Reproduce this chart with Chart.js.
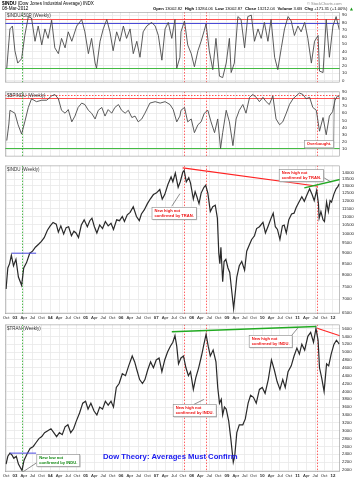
<!DOCTYPE html>
<html>
<head>
<meta charset="utf-8">
<script src="https://cdn.jsdelivr.net/npm/chart.js@4.4.0/dist/chart.umd.min.js"></script>
<style>
  body { margin: 0; background: #fff; }
  #wrap { position: relative; width: 362px; height: 480px; overflow: hidden; }
  canvas { position: absolute; left: 0; }
</style>
</head>
<body>
<div id="wrap">
  <canvas id="c1" width="362" height="87" style="top:0px"></canvas>
  <canvas id="c2" width="362" height="74" style="top:87px"></canvas>
  <canvas id="c3" width="362" height="161" style="top:161px"></canvas>
  <canvas id="c4" width="362" height="160" style="top:320px"></canvas>
</div>
<script>
const FONT = '"Liberation Sans", Arial, sans-serif';
const X_MIN = 2002.72, X_MAX = 2012.2;

// --- panel 1: % of Dow stocks above 50-day MA (weekly) ---
const osc1Dates = [
  2002.77, 2002.86, 2002.93,
  2003.00, 2003.08, 2003.19, 2003.28, 2003.38, 2003.47, 2003.57, 2003.66, 2003.76, 2003.85, 2003.94,
  2004.04, 2004.13, 2004.23, 2004.32, 2004.42, 2004.51, 2004.61, 2004.75, 2004.89, 2004.98,
  2005.08, 2005.17, 2005.27, 2005.31, 2005.41, 2005.50, 2005.60, 2005.69, 2005.78, 2005.88, 2005.97,
  2006.07, 2006.16, 2006.26, 2006.35, 2006.45, 2006.54, 2006.63, 2006.73, 2006.87, 2006.97,
  2007.06, 2007.16, 2007.25, 2007.34, 2007.44, 2007.53, 2007.58, 2007.67, 2007.70, 2007.80, 2007.89, 2007.99,
  2008.08, 2008.18, 2008.27, 2008.36, 2008.41, 2008.50, 2008.60, 2008.69, 2008.79, 2008.88, 2008.98,
  2009.07, 2009.12, 2009.21, 2009.31, 2009.40, 2009.50, 2009.59, 2009.69, 2009.78, 2009.88, 2009.97,
  2010.06, 2010.16, 2010.25, 2010.35, 2010.44, 2010.54, 2010.63, 2010.73, 2010.82, 2010.91,
  2011.01, 2011.10, 2011.20, 2011.29, 2011.39, 2011.48, 2011.58, 2011.62, 2011.72, 2011.81, 2011.90,
  2012.00, 2012.09, 2012.18
];
const osc1Values = [
  17, 71, 75,
  41, 24, 30, 62, 88, 86, 54, 75, 49, 71, 58,
  83, 45, 37, 58, 45, 67, 54, 75, 84, 67,
  37, 58, 24, 17, 54, 71, 84, 67, 41, 67, 54,
  75, 58, 71, 37, 54, 32, 67, 75, 80, 75,
  62, 28, 71, 80, 58, 84, 17, 32, 67, 82, 49, 37,
  19, 41, 54, 69, 78, 41, 15, 58, 6, 4, 24,
  58, 11, 24, 88, 84, 45, 88, 90, 54, 71, 58,
  80, 54, 84, 32, 15, 45, 71, 88, 82, 62,
  75, 67, 80, 58, 24, 54, 62, 13, 11, 84, 32,
  75, 88, 70
];

// --- panel 2: Dow Bullish Percent (weekly) ---
const bpiDates = [
  2002.77, 2002.83, 2002.86,
  2003.00, 2003.09, 2003.19, 2003.28, 2003.38, 2003.47, 2003.61, 2003.76, 2003.90,
  2004.04, 2004.13, 2004.23, 2004.32, 2004.42, 2004.51, 2004.61, 2004.70, 2004.79, 2004.89, 2004.98,
  2005.08, 2005.17, 2005.27, 2005.36, 2005.46, 2005.55, 2005.64, 2005.74, 2005.83, 2005.93,
  2006.02, 2006.12, 2006.21, 2006.31, 2006.40, 2006.49, 2006.59, 2006.68, 2006.82, 2006.97,
  2007.11, 2007.25, 2007.39, 2007.48, 2007.58, 2007.67, 2007.70, 2007.80, 2007.89, 2007.99,
  2008.08, 2008.18, 2008.27, 2008.36, 2008.46, 2008.55, 2008.65, 2008.74, 2008.82, 2008.88, 2008.98,
  2009.07, 2009.17, 2009.26, 2009.35, 2009.45, 2009.54, 2009.64, 2009.73, 2009.83, 2009.92,
  2010.02, 2010.11, 2010.20, 2010.30, 2010.39, 2010.49, 2010.58, 2010.68, 2010.77, 2010.87, 2010.96,
  2011.05, 2011.15, 2011.24, 2011.34, 2011.43, 2011.53, 2011.62, 2011.72, 2011.81, 2011.90, 2011.99,
  2012.06, 2012.13, 2012.18
];
const bpiValues = [
  22, 45, 64,
  60, 44, 31, 48, 68, 80, 76, 78, 78,
  84, 86, 80, 64, 60, 65, 48, 56, 68, 74, 72,
  64, 60, 52, 64, 68, 56, 65, 60, 68, 72,
  64, 60, 64, 54, 56, 48, 52, 60, 74, 76,
  74, 76, 72, 65, 48, 56, 64, 68, 48, 52,
  33, 44, 48, 60, 64, 48, 33, 52, 11, 33, 64,
  48, 15, 52, 64, 72, 60, 82, 86, 82, 76,
  82, 76, 72, 84, 52, 44, 48, 60, 72, 80, 84,
  88, 86, 80, 82, 68, 64, 35, 54, 30, 56, 62,
  78, 84, 82
];

// --- panel 3: $INDU weekly ---
const induDates = [
  2002.75, 2002.80, 2002.85, 2002.90, 2002.96,
  2003.03, 2003.10, 2003.19, 2003.25, 2003.33, 2003.42, 2003.50, 2003.58, 2003.67, 2003.75, 2003.83, 2003.92,
  2004.00, 2004.08, 2004.17, 2004.23, 2004.30, 2004.38, 2004.45, 2004.52, 2004.60, 2004.67, 2004.73, 2004.80, 2004.88, 2004.96,
  2005.05, 2005.12, 2005.18, 2005.25, 2005.32, 2005.40, 2005.48, 2005.56, 2005.64, 2005.72, 2005.79, 2005.88, 2005.96,
  2006.04, 2006.10, 2006.18, 2006.26, 2006.35, 2006.44, 2006.52, 2006.58, 2006.66, 2006.75, 2006.83, 2006.92,
  2007.00, 2007.10, 2007.17, 2007.24, 2007.33, 2007.42, 2007.47, 2007.54, 2007.62, 2007.68, 2007.75, 2007.79, 2007.85, 2007.92, 2007.97,
  2008.05, 2008.10, 2008.15, 2008.21, 2008.27, 2008.35, 2008.40, 2008.46, 2008.53, 2008.60, 2008.67, 2008.73, 2008.77, 2008.80, 2008.83, 2008.88, 2008.92, 2008.97,
  2009.03, 2009.08, 2009.13, 2009.19, 2009.24, 2009.28, 2009.35, 2009.42, 2009.50, 2009.56, 2009.63, 2009.70, 2009.78, 2009.84, 2009.92,
  2010.02, 2010.09, 2010.16, 2010.25, 2010.31, 2010.37, 2010.43, 2010.50, 2010.57, 2010.62, 2010.68, 2010.75, 2010.83, 2010.90, 2010.96,
  2011.04, 2011.12, 2011.19, 2011.26, 2011.34, 2011.41, 2011.47, 2011.54, 2011.59, 2011.61, 2011.66, 2011.72, 2011.76, 2011.82, 2011.87, 2011.92, 2011.96,
  2012.03, 2012.09, 2012.14, 2012.18
];
const induValues = [
  7400, 8300, 8500, 8900, 8400,
  8700, 7900, 7550, 8300, 8550, 9000, 9100, 9300, 9450, 9600, 9800, 10200,
  10450, 10650, 10550, 10100, 10450, 10000, 10350, 10400, 9900, 10150, 10050, 9800, 10500, 10800,
  10400, 10750, 10900, 10400, 10050, 10500, 10300, 10700, 10450, 10600, 10250, 10800, 10750,
  11000, 10700, 11100, 11250, 11600, 11000, 10750, 11150, 11400, 11800, 12100, 12400,
  12500, 12750, 12100, 12400, 13100, 13650, 13300, 13950, 12900, 13300, 14000, 14150, 13300, 13600, 13200,
  12100, 12600, 12250, 11800, 12500, 12900, 13050, 12500, 11300, 11600, 11700, 10900, 9000, 8500, 9300, 7700, 8600, 8700,
  8300, 8100, 7400, 6650, 7300, 7900, 8400, 8600, 8200, 9100, 9400, 9700, 9900, 10300, 10400,
  10650, 10050, 10400, 10900, 11200, 10400, 10250, 9700, 10450, 10500, 10050, 10800, 11150, 11200, 11550,
  11900, 12250, 11950, 12350, 12800, 12400, 12000, 12700, 11800, 10900, 11300, 10800, 10700, 11900, 11300, 12000, 11900,
  12450, 12800, 12950, 13150
];

// --- panel 4: $TRAN weekly ---
const tranDates = [
  2002.75, 2002.80, 2002.86, 2002.92, 2002.97,
  2003.04, 2003.10, 2003.20, 2003.26, 2003.34, 2003.43, 2003.52, 2003.60, 2003.68, 2003.76, 2003.84, 2003.93,
  2004.02, 2004.10, 2004.18, 2004.26, 2004.34, 2004.42, 2004.50, 2004.58, 2004.66, 2004.74, 2004.83, 2004.92,
  2005.00, 2005.07, 2005.15, 2005.24, 2005.32, 2005.40, 2005.48, 2005.56, 2005.64, 2005.72, 2005.79, 2005.87, 2005.95,
  2006.04, 2006.13, 2006.22, 2006.32, 2006.39, 2006.45, 2006.53, 2006.61, 2006.68, 2006.76, 2006.84, 2006.92,
  2007.00, 2007.08, 2007.16, 2007.24, 2007.32, 2007.40, 2007.47, 2007.53, 2007.58, 2007.63, 2007.70, 2007.77, 2007.84, 2007.91, 2007.97,
  2008.05, 2008.12, 2008.20, 2008.28, 2008.35, 2008.41, 2008.47, 2008.53, 2008.61, 2008.69, 2008.74, 2008.79, 2008.84, 2008.88, 2008.93, 2008.98,
  2009.05, 2009.11, 2009.18, 2009.22, 2009.28, 2009.35, 2009.45, 2009.52, 2009.60, 2009.67, 2009.75, 2009.83, 2009.92,
  2010.00, 2010.08, 2010.17, 2010.26, 2010.34, 2010.42, 2010.50, 2010.58, 2010.65, 2010.73, 2010.82, 2010.90, 2010.98,
  2011.05, 2011.12, 2011.20, 2011.29, 2011.37, 2011.45, 2011.52, 2011.58, 2011.62, 2011.68, 2011.75, 2011.82, 2011.88, 2011.95,
  2012.03, 2012.10, 2012.18
];
const tranValues = [
  2150, 2350, 2430, 2380, 2300,
  2350, 2150, 1990, 2250, 2400, 2550, 2600, 2700, 2800, 2850, 2950, 3000,
  3050, 2950, 2850, 2950, 2900, 3100, 3150, 2950, 3050, 3250, 3450, 3700,
  3750, 3550, 3700, 3500, 3400, 3600, 3550, 3750, 3650, 3750, 3600, 4100, 4200,
  4450, 4400, 4650, 4900, 4750, 4550, 4300, 4200, 4300, 4550, 4750, 4600,
  4800, 4850, 4500, 4800, 5000, 5150, 5250, 5420, 5150, 4700, 4850, 4900, 4600, 4400, 4500,
  4050, 4350, 4600, 4900, 5200, 5450, 5150, 4900, 5050, 4750, 4100, 3700, 3800, 3400, 3600, 3550,
  3250, 2800, 2200, 2350, 2950, 3150, 3150, 3300, 3700, 3900, 3850, 3700, 4050,
  4100, 3950, 4300, 4800, 4550, 4250, 4050, 4300, 4100, 4500, 4650, 4900, 5100,
  4950, 5200, 5050, 5400, 5500, 5250, 5600, 5300, 4600, 4350, 4000, 4700, 4650, 4950,
  5200, 5300, 5200
];

// tick labels
const pctTicks = [0, 10, 20, 30, 40, 50, 60, 70, 80, 90];
const bpiTicks = [10, 20, 30, 40, 50, 60, 70, 80, 90];
const induTicks = [6500, 7000, 7500, 8000, 8500, 9000, 9500, 10000, 10500, 11000, 11500, 12000, 12500, 13000, 13500, 14000];
const tranTicks = [2000, 2200, 2400, 2600, 2800, 3000, 3200, 3400, 3600, 3800, 4000, 4200, 4400, 4600, 4800, 5000, 5200, 5400, 5600];
const quarterNames = ['', 'Apr', 'Jul', 'Oct'];
const headerStats = [['Open', '13002.82'], ['High', '13284.06'], ['Low', '13002.87'], ['Close', '13212.04'], ['Volume', '3.6B'], ['Chg', '+171.31 (+1.00%)']];

// marker dates (vertical dotted lines)
const greenDates = [2003.2];
const redDates = [2007.78, 2008.4, 2011.55];

const quarterTicks = [];
for (let yr = 2002; yr <= 2012; yr++) {
  for (let q = 0; q < 4; q++) {
    const t = yr + q * 0.25;
    if (t >= X_MIN && t <= X_MAX) quarterTicks.push(t);
  }
}
const qIndex = v => Math.round((v - Math.floor(v + 0.001)) * 4) % 4;

function xScale(show) {
  return {
    type: 'linear', min: X_MIN, max: X_MAX,
    afterBuildTicks: s => { s.ticks = quarterTicks.map(v => ({ value: v })); },
    ticks: {
      display: show, autoSkip: false, maxRotation: 0, padding: 1, color: '#222',
      font: c => ({ size: 4.3, family: FONT, weight: (c.tick && qIndex(c.tick.value) === 0) ? 'bold' : 'normal' }),
      callback: v => qIndex(v) === 0 ? String(Math.round(v)).slice(2) : quarterNames[qIndex(v)]
    },
    grid: { color: '#e8e8e8', drawTicks: false, lineWidth: 0.8 },
    border: { display: false },
    afterFit: s => { s.height = show ? 8 : 0; }
  };
}

function yScale(type, min, max, ticks) {
  return {
    type: type, position: 'right', min: min, max: max,
    afterBuildTicks: s => { s.ticks = ticks.map(v => ({ value: v })); },
    ticks: { autoSkip: false, padding: 2, color: '#222', font: { size: 4.3, family: FONT }, callback: v => String(v) },
    grid: { color: '#e8e8e8', drawTicks: false, lineWidth: 0.8 },
    border: { display: false },
    afterFit: s => { s.width = 22; }
  };
}

function drawHeader(ctx) {
  ctx.save();
  ctx.textBaseline = 'middle';
  ctx.fillStyle = '#000';
  ctx.font = 'bold 4.8px ' + FONT;
  ctx.fillText('$INDU', 2, 4);
  const w = ctx.measureText('$INDU').width;
  ctx.font = '4.6px ' + FONT;
  ctx.fillText(' (Dow Jones Industrial Average) INDX', 2 + w, 4);
  ctx.fillText('08-Mar-2012', 2, 9);
  // fit the quote line between x=153 and x=355
  let size = 4.4, total = 0;
  const measure = f => {
    let sum = 0;
    headerStats.forEach(([k, v]) => {
      ctx.font = 'bold ' + f + 'px ' + FONT; sum += ctx.measureText(k).width + 1.2;
      ctx.font = f + 'px ' + FONT; sum += ctx.measureText(v).width + 2.5;
    });
    return sum;
  };
  while ((total = measure(size)) > 198 && size > 3) size -= 0.1;
  let px = 153;
  headerStats.forEach(([k, v]) => {
    ctx.font = 'bold ' + size + 'px ' + FONT;
    ctx.fillText(k, px, 9);
    px += ctx.measureText(k).width + 1.2;
    ctx.font = size + 'px ' + FONT;
    ctx.fillText(v, px, 9);
    px += ctx.measureText(v).width + 2.5;
  });
  ctx.fillStyle = '#1a9a1a';
  ctx.beginPath(); ctx.moveTo(px, 10.5); ctx.lineTo(px + 3, 10.5); ctx.lineTo(px + 1.5, 7.5); ctx.fill();
  ctx.fillStyle = '#888';
  ctx.font = '4px ' + FONT;
  ctx.fillText('\u00a9 StockCharts.com', 307, 4);
  ctx.restore();
}

function makeDeco(cfg) {
  return {
    id: 'deco',
    beforeDatasetsDraw(chart) {
      const { ctx, chartArea: a } = chart;
      const x = chart.scales.x, y = chart.scales.y;
      ctx.save();
      ctx.beginPath(); ctx.rect(a.left, a.top, a.right - a.left, a.bottom - a.top); ctx.clip();
      (cfg.hLines || []).forEach(h => {
        const py = Math.round(y.getPixelForValue(h.v)) + 0.5;
        ctx.strokeStyle = h.color; ctx.lineWidth = 1; ctx.setLineDash(h.dash || []);
        ctx.beginPath(); ctx.moveTo(a.left, py); ctx.lineTo(a.right, py); ctx.stroke();
      });
      const vline = (dates, color) => dates.forEach(t => {
        const px = Math.round(x.getPixelForValue(t)) + 0.5;
        ctx.strokeStyle = color; ctx.lineWidth = 0.8; ctx.setLineDash([1.5, 1.5]);
        ctx.beginPath(); ctx.moveTo(px, a.top); ctx.lineTo(px, a.bottom); ctx.stroke();
      });
      vline(greenDates, '#22aa22');
      vline(redDates, '#ff3b3b');
      ctx.restore();
    },
    afterDatasetsDraw(chart) {
      const { ctx, chartArea: a } = chart;
      const x = chart.scales.x, y = chart.scales.y;
      ctx.save();
      ctx.beginPath(); ctx.rect(a.left, a.top, a.right - a.left, a.bottom - a.top); ctx.clip();
      (cfg.trends || []).forEach(tl => {
        ctx.strokeStyle = tl.color; ctx.lineWidth = tl.w || 1.2; ctx.setLineDash([]);
        ctx.beginPath();
        ctx.moveTo(x.getPixelForValue(tl.t1), y.getPixelForValue(tl.v1));
        ctx.lineTo(x.getPixelForValue(tl.t2), y.getPixelForValue(tl.v2));
        ctx.stroke();
      });
      (cfg.boxes || []).forEach(b => {
        const px = x.getPixelForValue(b.t), py = y.getPixelForValue(b.v);
        if (b.ptr) {
          ctx.strokeStyle = '#444'; ctx.lineWidth = 0.6;
          ctx.beginPath();
          ctx.moveTo(x.getPixelForValue(b.ptr[0]), y.getPixelForValue(b.ptr[1]));
          ctx.lineTo(x.getPixelForValue(b.ptr[2]), y.getPixelForValue(b.ptr[3]));
          ctx.stroke();
        }
        ctx.font = 'bold 4.1px ' + FONT;
        const w = Math.max(...b.lines.map(s => ctx.measureText(s).width)) + 5;
        const h = b.lines.length * 4.8 + 2.5;
        ctx.fillStyle = '#bbb'; ctx.fillRect(px + 0.8, py + 0.8, w, h);
        ctx.fillStyle = '#fff'; ctx.fillRect(px, py, w, h);
        ctx.strokeStyle = '#888'; ctx.lineWidth = 0.6; ctx.strokeRect(px, py, w, h);
        ctx.fillStyle = b.color; ctx.textBaseline = 'top';
        b.lines.forEach((s, i) => ctx.fillText(s, px + 2.5, py + 1.6 + i * 4.8));
      });
      (cfg.texts || []).forEach(tx => {
        ctx.font = tx.font; ctx.fillStyle = tx.color; ctx.textBaseline = 'middle';
        ctx.fillText(tx.text, x.getPixelForValue(tx.t), y.getPixelForValue(tx.v));
      });
      ctx.restore();
      ctx.save();
      ctx.fillStyle = '#333'; ctx.textBaseline = 'top'; ctx.font = '4.5px ' + FONT;
      ctx.fillText(cfg.label, a.left + 2, a.top + 1.5);
      ctx.strokeStyle = '#999'; ctx.lineWidth = 0.6;
      ctx.strokeRect(a.left + 0.3, a.top + 0.3, a.right - a.left - 0.6, a.bottom - a.top - 0.6);
      if (cfg.header) drawHeader(ctx);
      ctx.restore();
    }
  };
}

function makePanel(id, dates, values, xs, ys, padTop, lineStyle, cfg) {
  return new Chart(document.getElementById(id), {
    type: 'line',
    data: {
      datasets: [{
        data: dates.map((t, i) => ({ x: t, y: values[i] })),
        borderColor: lineStyle.color, borderWidth: lineStyle.width, pointRadius: 0, tension: 0
      }]
    },
    options: {
      responsive: false, animation: false, events: [],
      layout: { padding: { left: 5, right: 0, top: padTop, bottom: 0 } },
      plugins: { legend: { display: false }, tooltip: { enabled: false } },
      scales: { x: xs, y: ys }
    },
    plugins: [makeDeco(cfg)]
  });
}

const oscLine = { color: '#4a4a4a', width: 0.9 };
const priceLine = { color: '#2a2a2a', width: 1.2 };

makePanel('c1', osc1Dates, osc1Values, xScale(false), yScale('linear', -2.6, 94.3, pctTicks), 12, oscLine, {
  header: true,
  label: '$INDUA50R (Weekly)',
  hLines: [{ v: 85, color: '#ff5050' }, { v: 79, color: '#4a4ad8' }, { v: 17, color: '#44bb44' }]
});

makePanel('c2', bpiDates, bpiValues, xScale(false), yScale('linear', 0, 90, bpiTicks), 0, oscLine, {
  label: '$BPINDU (Weekly)',
  hLines: [{ v: 85, color: '#ff5050', dash: [1.5, 1.5] }, { v: 81.5, color: '#ff5050' }, { v: 12, color: '#44bb44' }],
  boxes: [{ t: 2011.19, v: 22, lines: ['Overbought.'], color: '#ee1111', ptr: [2012.02, 18, 2012.04, 82] }]
});

makePanel('c3', induDates, induValues, xScale(true), yScale('logarithmic', 6455, 14529, induTicks), 0, priceLine, {
  label: '$INDU (Weekly)',
  trends: [
    { t1: 2007.75, v1: 14350, t2: 2011.575, v2: 12978, color: '#ff2222' },
    { t1: 2011.19, v1: 12861, t2: 2012.2, v2: 13465, color: '#22aa22', w: 1.5 },
    { t1: 2002.91, v1: 9000, t2: 2003.6, v2: 9000, color: '#4a4ae0', w: 1 }
  ],
  boxes: [
    { t: 2006.88, v: 11567, lines: ['New high not', 'confirmed by TRAN.'], color: '#ee1111', ptr: [2007.44, 11633, 2007.67, 12459] },
    { t: 2010.48, v: 14224, lines: ['New high not', 'confirmed by TRAN.'], color: '#ee1111', ptr: [2011.72, 13634, 2011.95, 13277] }
  ]
});

makePanel('c4', tranDates, tranValues, xScale(true), yScale('linear', 1950, 5699, tranTicks), 0, priceLine, {
  label: '$TRAN (Weekly)',
  trends: [
    { t1: 2007.44, v1: 5518, t2: 2011.53, v2: 5650, color: '#22aa22', w: 1.5 },
    { t1: 2011.575, v1: 5600, t2: 2012.2, v2: 5414, color: '#ff2222' },
    { t1: 2002.86, v1: 2430, t2: 2003.6, v2: 2430, color: '#4a4ae0', w: 1 }
  ],
  boxes: [
    { t: 2009.63, v: 5426, lines: ['New high not', 'confirmed by INDU.'], color: '#ee1111', ptr: [2010.82, 5409, 2011.01, 5617] },
    { t: 2007.48, v: 3664, lines: ['New high not', 'confirmed by INDU.'], color: '#ee1111', ptr: [2008.07, 3671, 2008.35, 3795] },
    { t: 2003.62, v: 2397, lines: ['New low not', 'confirmed by INDU.'], color: '#118811', ptr: [2003.61, 2181, 2003.235, 1958] }
  ],
  texts: [{ t: 2005.49, v: 2323, text: 'Dow Theory: Averages Must Confirm', font: 'bold 7.7px ' + FONT, color: '#1a1aee' }]
});
</script>
</body>
</html>
